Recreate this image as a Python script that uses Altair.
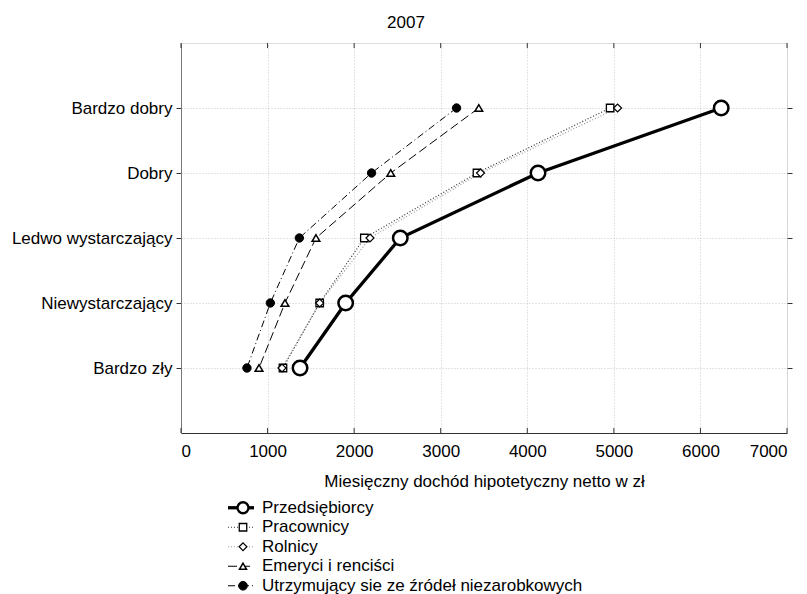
import altair as alt
import pandas as pd

# ---- data ----
categories = ["Bardzo dobry", "Dobry", "Ledwo wystarczający", "Niewystarczający", "Bardzo zły"]
series_names = ["Przedsiębiorcy", "Pracownicy", "Rolnicy", "Emeryci i renciści",
                "Utrzymujący sie ze źródeł niezarobkowych"]
# values ordered as in `categories` (top to bottom)
przedsiebiorcy = [6240, 4124, 2533, 1902, 1375]
pracownicy = [4957, 3419, 2118, 1602, 1178]
rolnicy = [5043, 3460, 2183, 1602, 1167]
emeryci = [3440, 2423, 1559, 1201, 901]
utrzymujacy = [3183, 2201, 1367, 1032, 762]
x_ticks = [0, 1000, 2000, 3000, 4000, 5000, 6000, 7000]

values = [przedsiebiorcy, pracownicy, rolnicy, emeryci, utrzymujacy]

FONT = "Liberation Sans"
FS = 17
W, H = 606, 390
GRID = "#c8c8c8"

rows = []
for name, vals in zip(series_names, values):
    for cat, v in zip(categories, vals):
        rows.append({"series": name, "cat": cat, "value": v})
df = pd.DataFrame(rows)
ticks_df = pd.DataFrame({"t": x_ticks})

# ---- styles ----
styles = {
    "Przedsiębiorcy": dict(line=dict(color="black", strokeWidth=3.3),
                           pt=dict(shape="circle", size=210, fill="white", strokeWidth=2.5),
                           lw=3.3,
                           lpt=dict(shape="circle", size=120, fill="white", strokeWidth=2.4)),
    "Pracownicy": dict(line=dict(color="#333333", strokeWidth=1.2, strokeDash=[1, 2]),
                       pt=dict(shape="square", size=56, fill="white", strokeWidth=1.3),
                       lw=1.2,
                       lpt=dict(shape="square", size=56, fill="white", strokeWidth=1.3)),
    "Rolnicy": dict(line=dict(color="#999999", strokeWidth=1.2, strokeDash=[1, 2]),
                    pt=dict(shape="diamond", size=64, fill="white", strokeWidth=1.2),
                    lw=1.2,
                    lpt=dict(shape="diamond", size=60, fill="white", strokeWidth=1.2)),
    "Emeryci i renciści": dict(line=dict(color="black", strokeWidth=1, strokeDash=[9, 4]),
                               pt=dict(shape="triangle-up", size=60, fill="white", strokeWidth=1.5),
                               lw=1.2,
                               lpt=dict(shape="triangle-up", size=50, fill="white", strokeWidth=1.5)),
    "Utrzymujący sie ze źródeł niezarobkowych": dict(
        line=dict(color="black", strokeWidth=1, strokeDash=[7, 3, 1, 3]),
        pt=dict(shape="circle", size=70, fill="black", strokeWidth=1),
        lw=1.2,
        lpt=dict(shape="circle", size=75, fill="black", strokeWidth=1)),
}

xscale = alt.Scale(domain=[0, 7000], nice=False)
yscale = alt.Scale(type="point", domain=categories, padding=1)

# axis layers
axis_main = alt.Chart(df).mark_point(opacity=0).encode(
    x=alt.X("value:Q", scale=xscale,
            title="Miesięczny dochód hipotetyczny netto w zł",
            axis=alt.Axis(values=x_ticks, format="d", grid=True, gridColor=GRID,
                          gridDash=[1, 2], gridWidth=1, ticks=False,
                          domainColor="#333", labelFontSize=FS, labelFont=FONT,
                          labelColor="black", labelPadding=10, titleFontSize=FS,
                          titleFont=FONT, titleFontWeight="normal", titleColor="black",
                          titlePadding=14)),
    y=alt.Y("cat:N", scale=yscale, title=None,
            axis=alt.Axis(grid=True, gridColor=GRID, gridDash=[1, 2], gridWidth=1,
                          tickSize=5, tickColor="#333", domainColor="#777",
                          labelFontSize=FS, labelFont=FONT, labelColor="black",
                          labelPadding=4)),
)
axis_right = alt.Chart(df).mark_point(opacity=0).encode(
    x=alt.X("value:Q", scale=xscale, axis=None),
    y=alt.Y("cat:N", scale=yscale, title=None,
            axis=alt.Axis(orient="right", labels=False, grid=False, domain=False,
                          tickSize=5, tickColor="#333")),
)
# inward ticks on the bottom and top frame
ticks_bottom = alt.Chart(ticks_df).mark_rule(color="#333", strokeWidth=1).encode(
    x=alt.X("t:Q", scale=xscale, axis=None), y=alt.value(H), y2=alt.value(H - 5))
ticks_top = alt.Chart(ticks_df).mark_rule(color="#333", strokeWidth=1).encode(
    x=alt.X("t:Q", scale=xscale, axis=None), y=alt.value(0), y2=alt.value(5))

layers = [axis_main, axis_right, ticks_bottom, ticks_top]
for name in series_names:
    st = styles[name]
    d = df[df["series"] == name]
    enc = dict(x=alt.X("value:Q", scale=xscale, axis=None),
               y=alt.Y("cat:N", scale=yscale, axis=None))
    layers.append(alt.Chart(d).mark_line(strokeCap="butt", **st["line"]).encode(**enc))
for name in series_names:
    st = styles[name]
    d = df[df["series"] == name]
    enc = dict(x=alt.X("value:Q", scale=xscale, axis=None),
               y=alt.Y("cat:N", scale=yscale, axis=None))
    layers.append(alt.Chart(d).mark_point(filled=True, stroke="black", opacity=1,
                                          **st["pt"]).encode(**enc))

main = alt.layer(*layers).resolve_axis(x="independent", y="independent").properties(
    width=W, height=H,
    title=alt.TitleParams("2007", fontSize=FS, font=FONT, fontWeight="normal",
                          color="black", anchor="middle", frame="bounds", offset=11, dx=4),
)

# ---- manual legend (line + symbol samples) ----
LEG_X0, LEG_X1, LEG_SYM, LEG_TXT = 47, 73, 62, 81
LEG_ROW = 19.5
leg = pd.DataFrame({"name": series_names})
leg["x0"] = LEG_X0
leg["x1"] = LEG_X1
leg["xs"] = LEG_SYM
leg["xt"] = LEG_TXT
lx = alt.Scale(domain=[0, W], nice=False, zero=False)
ly = alt.Scale(type="point", domain=series_names, padding=0.5)

leg_layers = []
for name in series_names:
    st = styles[name]
    d = leg[leg["name"] == name]
    lst = dict(st["line"])
    lst["strokeWidth"] = st["lw"]
    leg_layers.append(alt.Chart(d).mark_rule(strokeCap="butt", **lst).encode(
        x=alt.X("x0:Q", scale=lx, axis=None), x2="x1:Q",
        y=alt.Y("name:N", scale=ly, axis=None)))
    leg_layers.append(alt.Chart(d).mark_point(filled=True, stroke="black", opacity=1,
                                              **st["lpt"]).encode(
        x=alt.X("xs:Q", scale=lx, axis=None),
        y=alt.Y("name:N", scale=ly, axis=None)))
leg_layers.append(alt.Chart(leg).mark_text(align="left", baseline="middle", fontSize=FS,
                                           font=FONT, color="black").encode(
    x=alt.X("xt:Q", scale=lx, axis=None),
    y=alt.Y("name:N", scale=ly, axis=None),
    text="name:N"))

legend = alt.layer(*leg_layers).properties(
    width=W, height=LEG_ROW * len(series_names),
    view=alt.ViewBackground(stroke="transparent"))

chart = alt.vconcat(main, legend, spacing=6).properties(
    padding={"left": 2, "top": 5, "right": 0, "bottom": 0}
).configure_view(
    stroke="#333333", strokeWidth=1.2
).configure(background="white")

chart.save("out.html", embed_options={"renderer": "svg", "actions": False})
